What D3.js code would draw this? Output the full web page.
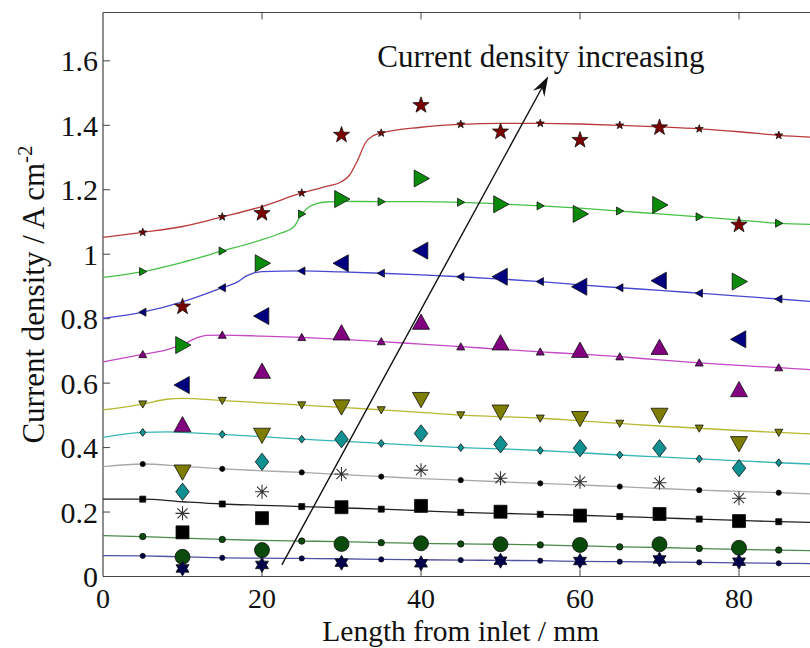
<!DOCTYPE html>
<html>
<head>
<meta charset="utf-8">
<script src="https://cdn.jsdelivr.net/npm/d3@7"></script>
<style>
  body { margin: 0; background: #fff; }
  svg { display: block; }
  svg text { font-family: 'Liberation Serif', 'Times New Roman', Times, 'DejaVu Serif', serif; fill: #111; }
</style>
</head>
<body>
<svg id="chart" width="810" height="648" font-family="Liberation Serif, Times New Roman, Times, serif"></svg>
<script>
// ---- Data: model curves (lines with small markers) and measured points (large markers)
const measX = [10, 20, 30, 40, 50, 60, 70, 80];
const gridX = [0, 5, 10, 15, 20, 25, 30, 35, 40, 45, 50, 55, 60, 65, 70, 75, 80, 85, 90];

const redCurveX   = [0, 5, 10, 15, 20, 25, 28, 30, 31, 32, 33, 34, 35, 40, 45, 50, 55, 60, 65, 70, 75, 80, 85, 90];
const redCurveY   = [1.052, 1.068, 1.086, 1.116, 1.148, 1.19, 1.21, 1.225, 1.245, 1.29, 1.345, 1.368, 1.376, 1.394, 1.403, 1.406, 1.406, 1.404, 1.40, 1.395, 1.389, 1.38, 1.369, 1.362];
const redMeas     = [0.837, 1.127, 1.370, 1.462, 1.380, 1.354, 1.393, 1.091];

const greenCurveX = [0, 5, 10, 15, 20, 22, 24, 25, 26, 27, 28, 30, 35, 40, 45, 50, 55, 60, 65, 70, 75, 80, 85, 90];
const greenCurveY = [0.928, 0.946, 0.975, 1.010, 1.045, 1.062, 1.085, 1.125, 1.148, 1.158, 1.162, 1.164, 1.163, 1.163, 1.161, 1.156, 1.150, 1.143, 1.134, 1.125, 1.116, 1.106, 1.096, 1.092];
const greenMeas   = [0.718, 0.972, 1.171, 1.235, 1.155, 1.125, 1.153, 0.915];

const blueCurveX  = [0, 5, 10, 15, 17, 18, 19, 20, 25, 30, 35, 40, 45, 50, 55, 60, 65, 70, 75, 80, 85, 90];
const blueCurveY  = [0.801, 0.820, 0.852, 0.896, 0.915, 0.932, 0.942, 0.946, 0.948, 0.945, 0.941, 0.936, 0.930, 0.923, 0.915, 0.905, 0.896, 0.888, 0.879, 0.870, 0.861, 0.852];
const blueMeas    = [0.594, 0.808, 0.972, 1.011, 0.930, 0.899, 0.918, 0.736];

const magCurveX   = [0, 5, 8, 10, 12, 13, 15, 20, 25, 30, 35, 40, 45, 50, 55, 60, 65, 70, 75, 80, 85, 90];
const magCurveY   = [0.666, 0.689, 0.703, 0.720, 0.742, 0.748, 0.749, 0.746, 0.742, 0.736, 0.729, 0.721, 0.713, 0.705, 0.697, 0.690, 0.682, 0.672, 0.663, 0.655, 0.648, 0.640];
const magMeas     = [0.470, 0.636, 0.755, 0.788, 0.724, 0.701, 0.710, 0.579];

const oliveCurveX = [0, 5, 8, 10, 15, 20, 25, 30, 35, 40, 45, 50, 55, 60, 65, 70, 75, 80, 85, 90];
const oliveCurveY = [0.517, 0.535, 0.550, 0.553, 0.546, 0.539, 0.532, 0.525, 0.517, 0.509, 0.501, 0.496, 0.491, 0.483, 0.475, 0.467, 0.460, 0.453, 0.447, 0.441];
const oliveMeas   = [0.325, 0.439, 0.527, 0.550, 0.511, 0.491, 0.501, 0.413];

const tealCurveX  = [0, 5, 8, 10, 15, 20, 25, 30, 35, 40, 45, 50, 55, 60, 65, 70, 75, 80, 85, 90];
const tealCurveY  = [0.432, 0.447, 0.449, 0.447, 0.441, 0.434, 0.426, 0.420, 0.413, 0.406, 0.400, 0.396, 0.391, 0.384, 0.377, 0.371, 0.365, 0.359, 0.353, 0.348];
const tealMeas    = [0.263, 0.356, 0.426, 0.444, 0.410, 0.398, 0.398, 0.336];

const grayCurveY  = [0.341, 0.349, 0.342, 0.334, 0.328, 0.323, 0.316, 0.310, 0.304, 0.299, 0.294, 0.289, 0.284, 0.279, 0.273, 0.268, 0.264, 0.260, 0.255];
const grayMeas    = [0.196, 0.263, 0.318, 0.330, 0.305, 0.294, 0.291, 0.243];

const blackCurveY = [0.240, 0.240, 0.232, 0.225, 0.221, 0.217, 0.213, 0.209, 0.204, 0.199, 0.196, 0.193, 0.190, 0.186, 0.182, 0.178, 0.174, 0.170, 0.167];
const blackMeas   = [0.137, 0.181, 0.215, 0.219, 0.201, 0.189, 0.194, 0.172];

const dgreenCurveY = [0.127, 0.124, 0.119, 0.115, 0.112, 0.110, 0.108, 0.105, 0.103, 0.101, 0.100, 0.098, 0.095, 0.092, 0.090, 0.087, 0.084, 0.082, 0.080];
const dgreenMeas   = [0.061, 0.082, 0.101, 0.103, 0.100, 0.098, 0.100, 0.089];

const navyCurveY  = [0.065, 0.064, 0.061, 0.058, 0.057, 0.056, 0.055, 0.053, 0.052, 0.051, 0.050, 0.049, 0.047, 0.046, 0.045, 0.044, 0.042, 0.041, 0.040];
const navyMeas    = [0.025, 0.036, 0.043, 0.041, 0.049, 0.048, 0.053, 0.046];

const xTicks = [0, 20, 40, 60, 80];
const yTicks = [0, 0.2, 0.4, 0.6, 0.8, 1, 1.2, 1.4, 1.6];

const series = [
  { cx: redCurveX,   cy: redCurveY,   meas: redMeas,   line: "#b83a3a", fill: "#7a0000", big: "star",  small: "star" },
  { cx: greenCurveX, cy: greenCurveY, meas: greenMeas, line: "#45c045", fill: "#0a8a0a", big: "right", small: "right" },
  { cx: blueCurveX,  cy: blueCurveY,  meas: blueMeas,  line: "#4848d0", fill: "#000080", big: "left",  small: "left" },
  { cx: magCurveX,   cy: magCurveY,   meas: magMeas,   line: "#c448c4", fill: "#800080", big: "up",    small: "up" },
  { cx: oliveCurveX, cy: oliveCurveY, meas: oliveMeas, line: "#b8b830", fill: "#7d7d00", big: "down",  small: "down" },
  { cx: tealCurveX,  cy: tealCurveY,  meas: tealMeas,  line: "#35b5b5", fill: "#109090", big: "diamond", small: "diamond" },
  { cx: gridX, cy: grayCurveY,   meas: grayMeas,   line: "#a8a8a8", fill: "#000000", big: "asterisk", small: "dot" },
  { cx: gridX, cy: blackCurveY,  meas: blackMeas,  line: "#222222", fill: "#000000", big: "square", small: "square" },
  { cx: gridX, cy: dgreenCurveY, meas: dgreenMeas, line: "#4a8a4a", fill: "#0a4a0a", big: "circle", small: "circle" },
  { cx: gridX, cy: navyCurveY,   meas: navyMeas,   line: "#5050a0", fill: "#00004a", big: "hexagram", small: "dot" }
];

// ---- Scales
const x = d3.scaleLinear().domain([0, 90]).range([103, 818.5]);
const y = d3.scaleLinear().domain([0, 1.75]).range([576.5, 12.5]);

const FONT = "'Liberation Serif', 'Times New Roman', Times, serif";
const svg = d3.select("#chart");

// ---- Marker shapes
function pts(arr) { return "M" + arr.map(p => p[0].toFixed(2) + "," + p[1].toFixed(2)).join("L") + "Z"; }
function starPts(n, ro, ri, start) {
  const a = [];
  for (let i = 0; i < 2 * n; i++) {
    const r = i % 2 === 0 ? ro : ri;
    const t = start + i * Math.PI / n;
    a.push([r * Math.cos(t), r * Math.sin(t)]);
  }
  return a;
}
function markerPath(type, s) {
  switch (type) {
    case "star": return pts(starPts(5, s, s * 0.4, -Math.PI / 2));
    case "hexagram": return pts(starPts(6, s, s / Math.sqrt(3), -Math.PI / 2));
    case "up": return pts([[0, -s], [s, s * 0.8], [-s, s * 0.8]]);
    case "down": return pts([[0, s], [s, -s * 0.8], [-s, -s * 0.8]]);
    case "left": return pts([[-s, 0], [s * 0.8, -s], [s * 0.8, s]]);
    case "right": return pts([[s, 0], [-s * 0.8, -s], [-s * 0.8, s]]);
    case "diamond": return pts([[0, -s * 1.15], [s * 0.9, 0], [0, s * 1.15], [-s * 0.9, 0]]);
    case "square": return pts([[-s, -s], [s, -s], [s, s], [-s, s]]);
    case "asterisk": {
      const d = s * 0.72;
      return `M${-s},0H${s}M0,${-s}V${s}M${-d},${-d}L${d},${d}M${-d},${d}L${d},${-d}`;
    }
    default: return "";
  }
}
function drawMarker(g, type, px, py, size, fill) {
  if (type === "circle" || type === "dot") {
    g.append("circle").attr("cx", px).attr("cy", py).attr("r", size)
      .attr("fill", fill).attr("stroke", "#111").attr("stroke-width", 0.8);
  } else if (type === "asterisk") {
    g.append("path").attr("transform", `translate(${px},${py})`).attr("d", markerPath(type, size))
      .attr("fill", "none").attr("stroke", "#333").attr("stroke-width", 1.1);
  } else {
    g.append("path").attr("transform", `translate(${px},${py})`).attr("d", markerPath(type, size))
      .attr("fill", fill).attr("stroke", "#111").attr("stroke-width", 0.8).attr("stroke-linejoin", "miter");
  }
}
const bigSize = { star: 8.5, right: 8.5, left: 8.5, up: 8.5, down: 8.5, diamond: 7.5, asterisk: 7, square: 6.5, circle: 7.5, hexagram: 7.5 };
const smallSize = { star: 4.2, right: 4, left: 4, up: 4, down: 4, diamond: 3.4, dot: 2.6, square: 3, circle: 3.2 };

// ---- Axes frame and ticks
const axisG = svg.append("g");
axisG.append("line").attr("x1", x(0)).attr("x2", 810).attr("y1", y(0)).attr("y2", y(0)).attr("stroke", "#444").attr("stroke-width", 1.2);
axisG.append("line").attr("x1", x(0)).attr("x2", 810).attr("y1", y(1.75)).attr("y2", y(1.75)).attr("stroke", "#444").attr("stroke-width", 1.2);
axisG.append("line").attr("x1", x(0)).attr("x2", x(0)).attr("y1", y(0)).attr("y2", y(1.75)).attr("stroke", "#444").attr("stroke-width", 1.2);

yTicks.forEach(v => {
  axisG.append("line").attr("x1", x(0)).attr("x2", x(0) + 7).attr("y1", y(v)).attr("y2", y(v)).attr("stroke", "#444");
  axisG.append("text").attr("x", x(0) - 5).attr("y", y(v)).attr("dy", "0.35em")
    .attr("font-family", FONT).attr("text-anchor", "end").attr("font-size", 30).text(d3.format("~g")(v));
});
xTicks.forEach(v => {
  if (v > 0) {
    axisG.append("line").attr("x1", x(v)).attr("x2", x(v)).attr("y1", y(0)).attr("y2", y(0) - 7).attr("stroke", "#444");
    axisG.append("line").attr("x1", x(v)).attr("x2", x(v)).attr("y1", y(1.75)).attr("y2", y(1.75) + 7).attr("stroke", "#444");
  }
  axisG.append("text").attr("x", x(v)).attr("y", 608)
    .attr("font-family", FONT).attr("text-anchor", "middle").attr("font-size", 28).text(v);
});

// Axis titles
svg.append("text").attr("x", (x(0) + x(90)) / 2).attr("y", 641)
  .attr("font-family", FONT).attr("text-anchor", "middle").attr("font-size", 29.5).text("Length from inlet / mm");
const yl = svg.append("text").attr("transform", `translate(44,${(y(0) + y(1.75)) / 2}) rotate(-90)`)
  .attr("font-family", FONT).attr("text-anchor", "middle").attr("font-size", 31);
yl.append("tspan").text("Current density / A cm");
yl.append("tspan").attr("dy", -12).attr("font-size", 21).text("-2");

// ---- Curves and markers
const lineGen = d3.line().x(d => x(d[0])).y(d => y(d[1])).curve(d3.curveMonotoneX);
const plot = svg.append("g");

series.forEach(s => {
  const data = s.cx.map((v, i) => [v, s.cy[i]]);
  plot.append("path").attr("d", lineGen(data)).attr("fill", "none")
    .attr("stroke", s.line).attr("stroke-width", 1.3);
});
series.forEach(s => {
  const g = plot.append("g");
  s.cx.forEach((v, i) => {
    if (v % 10 === 5) drawMarker(g, s.small, x(v), y(s.cy[i]), smallSize[s.small], s.fill);
  });
});
series.forEach(s => {
  const g = plot.append("g");
  measX.forEach((v, i) => drawMarker(g, s.big, x(v), y(s.meas[i]), bigSize[s.big], s.fill));
});

// ---- Annotation arrow
const a0 = [22.5, 0.036], a1 = [56, 1.552];
const p0 = [x(a0[0]), y(a0[1])], p1 = [x(a1[0]), y(a1[1])];
const ang = Math.atan2(p1[1] - p0[1], p1[0] - p0[0]);
const hl = 20, hw = 6.5, notch = 13;
const ux = Math.cos(ang), uy = Math.sin(ang), nx = -uy, ny = ux;
svg.append("line").attr("x1", p0[0]).attr("y1", p0[1])
  .attr("x2", p1[0] - ux * notch).attr("y2", p1[1] - uy * notch)
  .attr("stroke", "#111").attr("stroke-width", 1.4);
const head = [
  p1,
  [p1[0] - ux * hl + nx * hw, p1[1] - uy * hl + ny * hw],
  [p1[0] - ux * notch, p1[1] - uy * notch],
  [p1[0] - ux * hl - nx * hw, p1[1] - uy * hl - ny * hw]
];
svg.append("path").attr("d", "M" + head.map(p => p.join(",")).join("L") + "Z").attr("fill", "#111");

svg.append("text").attr("x", x(34.5)).attr("y", y(1.58)).attr("font-family", FONT).attr("font-size", 31)
  .text("Current density increasing");
</script>
</body>
</html>
